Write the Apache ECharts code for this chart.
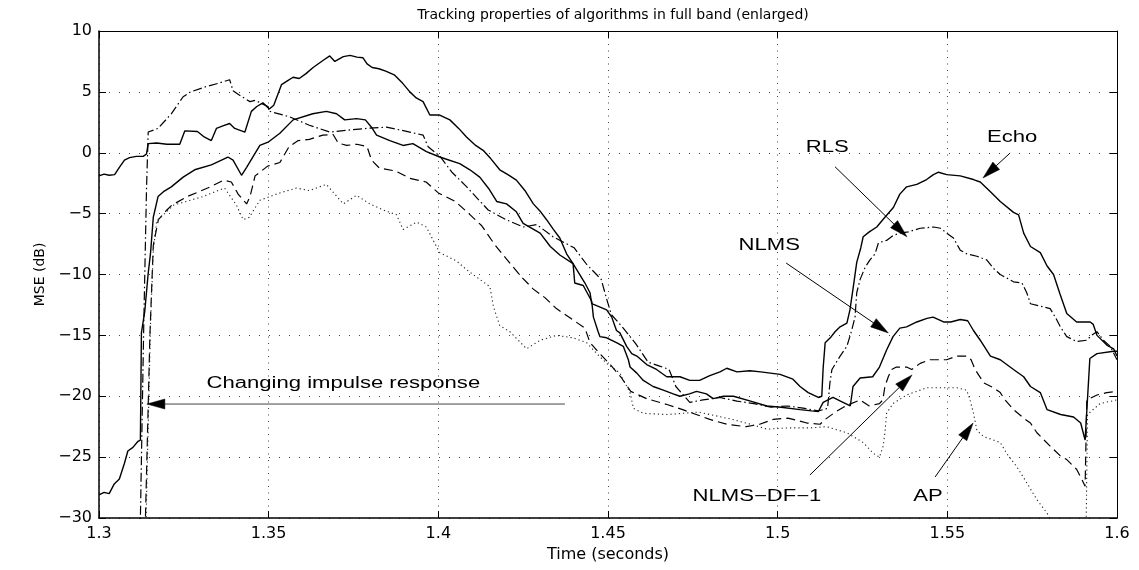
<!DOCTYPE html>
<html><head><meta charset="utf-8">
<script src="https://cdn.jsdelivr.net/npm/echarts@6/dist/echarts.min.js"></script>
<style>html,body{margin:0;padding:0;background:#fff}#c{width:1139px;height:570px}</style>
</head><body><div id="c"></div>
<script>
// ---- axis ticks ----
const xTicks = [1.3, 1.35, 1.4, 1.45, 1.5, 1.55, 1.6];
const xTickLabels = ['1.3', '1.35', '1.4', '1.45', '1.5', '1.55', '1.6'];
const yTicks = [-30, -25, -20, -15, -10, -5, 0, 5, 10];
const yTickLabels = ['\u221230', '\u221225', '\u221220', '\u221215', '\u221210', '\u22125', '0', '5', '10'];

// ---- series: [time (s), MSE (dB)] ----
const echo = [[1.3000,-1.9],[1.3015,-1.75],[1.3030,-1.85],[1.3046,-1.8],[1.3060,-1.2],[1.3075,-0.6],[1.3090,-0.4],[1.3110,-0.3],[1.3130,-0.3],[1.3140,-0.1],[1.3145,0.75],[1.3170,0.8],[1.3200,0.7],[1.3238,0.7],[1.3253,1.8],[1.3290,1.75],[1.3310,1.3],[1.3331,1.0],[1.3346,2.0],[1.3365,2.2],[1.3385,2.4],[1.3400,2.0],[1.3430,1.7],[1.3449,3.4],[1.3465,3.8],[1.3483,4.1],[1.3502,3.6],[1.3515,3.9],[1.3538,5.6],[1.3555,5.9],[1.3572,6.2],[1.3590,6.1],[1.3610,6.5],[1.3631,7.0],[1.3661,7.6],[1.3680,7.95],[1.3695,7.5],[1.3720,7.9],[1.3740,8.0],[1.3760,7.85],[1.3778,7.8],[1.3790,7.3],[1.3805,7.0],[1.3825,6.9],[1.3845,6.7],[1.3870,6.4],[1.3895,5.7],[1.3916,5.0],[1.3935,4.5],[1.3955,4.2],[1.3975,3.1],[1.4004,3.1],[1.4034,2.7],[1.4060,2.0],[1.4083,1.3],[1.4110,0.6],[1.4132,0.2],[1.4155,-0.5],[1.4181,-1.4],[1.4205,-1.8],[1.4230,-2.25],[1.4255,-3.1],[1.4280,-4.2],[1.4300,-4.8],[1.4319,-5.5],[1.4339,-6.3],[1.4358,-7.0],[1.4378,-8.3],[1.4397,-9.1],[1.4432,-10.7],[1.4447,-11.5],[1.4452,-12.4],[1.4461,-12.5],[1.4496,-12.9],[1.4511,-13.5],[1.4525,-14.6],[1.4535,-14.8],[1.4555,-15.9],[1.4570,-16.5],[1.4585,-16.7],[1.4614,-17.4],[1.4643,-17.8],[1.4673,-18.4],[1.4712,-18.4],[1.4741,-18.7],[1.4770,-18.7],[1.4800,-18.3],[1.4830,-18.0],[1.4850,-17.7],[1.4880,-18.0],[1.4918,-17.9],[1.4950,-18.0],[1.5007,-18.2],[1.5045,-18.6],[1.5066,-19.2],[1.5090,-19.7],[1.5120,-20.1],[1.5130,-20.0],[1.5134,-17.7],[1.5140,-15.6],[1.5155,-15.2],[1.5169,-14.7],[1.5184,-14.3],[1.5204,-14.0],[1.5213,-12.9],[1.5223,-11.0],[1.5233,-9.0],[1.5245,-7.8],[1.5252,-6.9],[1.5270,-6.5],[1.5292,-6.1],[1.5316,-5.3],[1.5341,-4.5],[1.5360,-3.4],[1.5380,-2.8],[1.5410,-2.6],[1.5439,-2.2],[1.5459,-1.8],[1.5474,-1.6],[1.5498,-1.8],[1.5538,-1.9],[1.5577,-2.2],[1.5597,-2.4],[1.5627,-3.2],[1.5656,-4.0],[1.5695,-4.9],[1.5710,-5.1],[1.5725,-6.6],[1.5745,-7.7],[1.5774,-8.2],[1.5794,-9.3],[1.5813,-10.0],[1.5832,-11.6],[1.5852,-13.2],[1.5881,-13.9],[1.5921,-13.9],[1.5930,-14.1],[1.5941,-15.0],[1.5970,-15.8],[1.5990,-16.1],[1.6000,-16.7]];

const rls = [[1.3000,-40],[1.3118,-40],[1.3122,-30],[1.3132,-14],[1.3140,-3],[1.3145,1.7],[1.3174,2.0],[1.3213,3.2],[1.3248,4.6],[1.3270,5.0],[1.3312,5.4],[1.3351,5.7],[1.3385,6.0],[1.3395,5.1],[1.3410,4.8],[1.3430,4.45],[1.3445,4.2],[1.3460,4.3],[1.3498,3.8],[1.3503,3.4],[1.3562,2.95],[1.3620,2.26],[1.3680,1.7],[1.3730,1.85],[1.3788,2.0],[1.3847,2.1],[1.3916,1.7],[1.3955,1.45],[1.3970,0.5],[1.4005,-0.3],[1.4040,-1.6],[1.4080,-2.7],[1.4120,-3.9],[1.4147,-4.7],[1.4200,-5.5],[1.4250,-6.1],[1.4290,-5.9],[1.4338,-6.9],[1.4400,-7.8],[1.4438,-9.2],[1.4480,-10.4],[1.4497,-12.1],[1.4510,-13.3],[1.4545,-14.4],[1.4582,-15.7],[1.4618,-17.2],[1.4650,-17.5],[1.4680,-17.8],[1.4700,-19.2],[1.4741,-20.5],[1.4780,-20.3],[1.4830,-20.1],[1.4880,-20.4],[1.4930,-20.6],[1.4980,-20.9],[1.5030,-20.8],[1.5080,-21.0],[1.5120,-21.2],[1.5147,-21.0],[1.5154,-18.9],[1.5160,-17.8],[1.5184,-16.7],[1.5204,-15.9],[1.5218,-14.6],[1.5228,-13.5],[1.5233,-11.5],[1.5243,-10.4],[1.5258,-9.4],[1.5272,-8.8],[1.5287,-8.3],[1.5297,-7.4],[1.5321,-7.2],[1.5340,-6.8],[1.5360,-6.6],[1.5385,-6.5],[1.5420,-6.2],[1.5459,-6.1],[1.5480,-6.2],[1.5498,-6.6],[1.5518,-7.0],[1.5538,-8.0],[1.5557,-8.3],[1.5587,-8.5],[1.5616,-8.8],[1.5636,-9.5],[1.5656,-10.0],[1.5695,-10.6],[1.5720,-10.7],[1.5734,-11.5],[1.5745,-12.4],[1.5774,-12.6],[1.5803,-12.8],[1.5820,-13.6],[1.5833,-14.3],[1.5852,-15.1],[1.5881,-15.5],[1.5911,-15.4],[1.5925,-15.0],[1.5941,-14.7],[1.5960,-15.4],[1.5980,-15.9],[1.6000,-17.0]];

const nlms = [[1.3000,-28.1],[1.3015,-27.9],[1.3030,-28.0],[1.3045,-27.2],[1.3060,-26.8],[1.3075,-25.5],[1.3085,-24.5],[1.3100,-24.2],[1.3115,-23.7],[1.3122,-23.6],[1.3125,-14.8],[1.3135,-13.0],[1.3145,-9.9],[1.3152,-8.2],[1.3160,-5.3],[1.3174,-3.6],[1.3190,-3.2],[1.3213,-2.8],[1.3248,-2.0],[1.3282,-1.4],[1.3331,-1.0],[1.3380,-0.35],[1.3395,-0.6],[1.3420,-1.85],[1.3435,-1.2],[1.3474,0.6],[1.3500,0.9],[1.3533,1.6],[1.3572,2.7],[1.3630,3.2],[1.3670,3.4],[1.3700,3.2],[1.3724,2.7],[1.3759,2.8],[1.3785,2.7],[1.3803,2.1],[1.3818,1.45],[1.3857,1.0],[1.3896,0.6],[1.3925,0.75],[1.3965,0.1],[1.4004,-0.35],[1.4063,-0.9],[1.4093,-1.4],[1.4122,-2.0],[1.4150,-3.0],[1.4172,-4.0],[1.4201,-4.2],[1.4230,-4.85],[1.4250,-5.8],[1.4300,-6.6],[1.4330,-7.7],[1.4358,-8.4],[1.4397,-9.1],[1.4402,-10.7],[1.4427,-10.9],[1.4452,-12.2],[1.4457,-13.5],[1.4471,-14.7],[1.4476,-15.1],[1.4496,-15.2],[1.4525,-15.6],[1.4545,-15.9],[1.4560,-17.0],[1.4565,-17.6],[1.4585,-18.1],[1.4604,-18.7],[1.4633,-19.2],[1.4663,-19.5],[1.4692,-19.8],[1.4712,-20.0],[1.4740,-19.8],[1.4761,-19.6],[1.4790,-19.8],[1.4810,-20.2],[1.4840,-20.0],[1.4870,-20.0],[1.4920,-20.4],[1.4968,-20.8],[1.5010,-20.9],[1.5066,-21.1],[1.5100,-21.2],[1.5120,-21.25],[1.5134,-20.5],[1.5163,-20.1],[1.5185,-20.4],[1.5214,-20.8],[1.5222,-19.2],[1.5243,-18.5],[1.5280,-18.4],[1.5300,-17.6],[1.5321,-16.2],[1.5340,-15.1],[1.5360,-14.4],[1.5380,-14.3],[1.5410,-13.9],[1.5440,-13.6],[1.5458,-13.5],[1.5489,-13.9],[1.5510,-13.9],[1.5538,-13.7],[1.5560,-13.8],[1.5577,-14.6],[1.5597,-15.4],[1.5627,-16.7],[1.5656,-17.0],[1.5695,-17.8],[1.5725,-18.4],[1.5745,-19.2],[1.5774,-19.7],[1.5794,-21.1],[1.5834,-21.5],[1.5872,-21.7],[1.5893,-22.2],[1.5906,-23.6],[1.5911,-23.7],[1.5920,-16.9],[1.5941,-16.5],[1.5990,-16.3],[1.6000,-16.3]];

const nlmsDf1 = [[1.3000,-40],[1.3132,-40],[1.3136,-31],[1.3150,-15],[1.3160,-7.6],[1.3175,-5.5],[1.3200,-4.7],[1.3215,-4.3],[1.3260,-3.6],[1.3320,-2.9],[1.3368,-2.25],[1.3390,-2.4],[1.3410,-3.4],[1.3435,-4.2],[1.3445,-3.6],[1.3460,-1.9],[1.3497,-1.1],[1.3533,-0.8],[1.3560,0.5],[1.3587,1.0],[1.3620,1.1],[1.3660,1.45],[1.3690,1.5],[1.3705,0.8],[1.3730,0.6],[1.3760,0.7],[1.3790,0.5],[1.3803,-0.6],[1.3826,-1.25],[1.3874,-1.5],[1.3916,-2.1],[1.3964,-2.4],[1.4000,-3.3],[1.4050,-4.0],[1.4090,-5.0],[1.4128,-6.0],[1.4165,-7.5],[1.4200,-8.7],[1.4245,-10.2],[1.4280,-11.2],[1.4314,-11.9],[1.4348,-12.8],[1.4390,-13.6],[1.4432,-14.4],[1.4447,-15.6],[1.4476,-16.5],[1.4510,-17.5],[1.4540,-18.5],[1.4567,-19.6],[1.4614,-20.2],[1.4676,-20.7],[1.4720,-21.1],[1.4760,-21.5],[1.4800,-21.9],[1.4850,-22.3],[1.4907,-22.5],[1.4947,-22.3],[1.4987,-21.9],[1.5030,-21.8],[1.5060,-22.0],[1.5086,-22.2],[1.5125,-22.3],[1.5140,-21.9],[1.5170,-21.3],[1.5200,-20.8],[1.5243,-20.3],[1.5270,-20.8],[1.5300,-20.6],[1.5310,-20.3],[1.5316,-19.2],[1.5326,-18.4],[1.5336,-17.8],[1.5350,-17.6],[1.5380,-17.6],[1.5395,-17.8],[1.5420,-17.3],[1.5449,-17.0],[1.5498,-17.0],[1.5528,-16.7],[1.5557,-16.7],[1.5570,-17.0],[1.5582,-17.8],[1.5607,-18.9],[1.5636,-19.3],[1.5656,-19.7],[1.5670,-20.3],[1.5695,-21.1],[1.5725,-21.8],[1.5745,-22.2],[1.5764,-23.0],[1.5803,-24.1],[1.5833,-24.9],[1.5852,-25.2],[1.5881,-26.0],[1.5896,-26.8],[1.5906,-27.4],[1.5911,-20.3],[1.5941,-19.9],[1.5970,-19.7],[1.6000,-19.6]];

const ap = [[1.3000,-40],[1.3134,-40],[1.3138,-31],[1.3152,-14],[1.3160,-8],[1.3170,-5.6],[1.3220,-4.3],[1.3306,-3.6],[1.3370,-2.9],[1.3405,-4.3],[1.3425,-5.5],[1.3443,-5.3],[1.3474,-3.9],[1.3533,-3.3],[1.3582,-2.9],[1.3620,-3.1],[1.3670,-2.6],[1.3720,-4.2],[1.3759,-3.5],[1.3798,-4.2],[1.3837,-4.7],[1.3877,-5.1],[1.3896,-6.3],[1.3936,-5.7],[1.3965,-6.1],[1.3985,-7.2],[1.4004,-8.2],[1.4054,-8.9],[1.4083,-9.6],[1.4112,-10.2],[1.4152,-11.0],[1.4162,-12.6],[1.4181,-14.2],[1.4211,-14.7],[1.4260,-16.1],[1.4300,-15.4],[1.4348,-15.0],[1.4397,-15.2],[1.4437,-15.6],[1.4467,-16.5],[1.4496,-17.3],[1.4535,-18.1],[1.4565,-19.7],[1.4575,-21.0],[1.4604,-21.4],[1.4673,-21.5],[1.4722,-21.4],[1.4767,-21.3],[1.4866,-21.9],[1.4920,-22.3],[1.4968,-22.7],[1.5030,-22.6],[1.5095,-22.6],[1.5144,-22.5],[1.5204,-23.0],[1.5252,-23.8],[1.5282,-24.7],[1.5300,-25.0],[1.5311,-24.1],[1.5316,-23.0],[1.5321,-21.4],[1.5340,-20.6],[1.5380,-19.9],[1.5439,-19.3],[1.5478,-19.3],[1.5528,-19.3],[1.5557,-19.5],[1.5567,-20.3],[1.5577,-21.4],[1.5587,-22.8],[1.5606,-23.3],[1.5656,-23.8],[1.5675,-24.7],[1.5705,-25.8],[1.5734,-27.1],[1.5764,-28.5],[1.5794,-29.6],[1.5820,-31],[1.5860,-33],[1.5908,-33],[1.5913,-21.5],[1.5950,-20.6],[1.6000,-20.3]];

// ---- annotations (data coordinates) ----
const annotations = [
  { text: 'Changing impulse response', label: [1.3720, -18.95], from: [1.4373, -20.64], to: [1.3141, -20.64] },
  { text: 'Echo',      label: [1.5691, 1.22],   from: [1.5685, -0.02],  to: [1.5605, -2.07] },
  { text: 'RLS',       label: [1.5146, 0.39],   from: [1.5169, -1.15],  to: [1.5381, -6.90] },
  { text: 'NLMS',      label: [1.4975, -7.66],  from: [1.5025, -9.06],  to: [1.5326, -14.8] },
  { text: 'NLMS\u2212DF\u22121', label: [1.4939, -28.28], from: [1.5095, -26.47], to: [1.5396, -18.25] },
  { text: 'AP',        label: [1.5443, -28.28], from: [1.5464, -26.63], to: [1.5576, -22.2] }
];

function tickLabel(ticks, labels, v) {
  for (let i = 0; i < ticks.length; i++) if (Math.abs(ticks[i] - v) < 1e-6) return labels[i];
  return '';
}

const chart = echarts.init(document.getElementById('c'), null, { renderer: 'canvas' });
const FONT = 'DejaVu Sans';
const axisCommon = {
  type: 'value',
  axisLine: { show: true, onZero: false, lineStyle: { color: '#000', width: 1.5 } },
  axisTick: { show: true, inside: true, length: 7, lineStyle: { color: '#000', width: 1 } },
  minorTick: { show: false }
};
const lineBase = { type: 'line', showSymbol: false, symbol: 'none', silent: true, clip: true, animation: false, z: 3 };

chart.setOption({
  animation: false,
  backgroundColor: '#fff',
  title: {
    text: 'Tracking properties of algorithms in full band (enlarged)',
    left: 608, top: 3, textAlign: 'center',
    textStyle: { fontFamily: FONT, fontSize: 14, fontWeight: 'normal', color: '#000' }
  },
  grid: { left: 99, right: 22, top: 31, bottom: 52, containLabel: false },
  xAxis: [
    Object.assign({}, axisCommon, {
      position: 'bottom', min: 1.3, max: 1.6, interval: 0.05,
      name: 'Time (seconds)', nameLocation: 'middle', nameGap: 29,
      nameTextStyle: { fontFamily: FONT, fontSize: 16, color: '#000' },
      axisLabel: { margin: 8, fontFamily: FONT, fontSize: 16, color: '#000',
        formatter: v => tickLabel(xTicks, xTickLabels, v) },
      splitLine: { show: true, lineStyle: { color: '#444', width: 1, type: [1, 5.5] } }
    }),
    Object.assign({}, axisCommon, {
      position: 'top', min: 1.3, max: 1.6, interval: 0.05,
      axisLine: { show: true, onZero: false, lineStyle: { color: '#000', width: 1 } },
      axisLabel: { show: false }, splitLine: { show: false }
    })
  ],
  yAxis: [
    Object.assign({}, axisCommon, {
      position: 'left', min: -30, max: 10, interval: 5,
      name: 'MSE (dB)', nameLocation: 'middle', nameGap: 50,
      nameTextStyle: { fontFamily: FONT, fontSize: 14, color: '#000' },
      axisLabel: { margin: 7, fontFamily: FONT, fontSize: 16, color: '#000',
        formatter: v => tickLabel(yTicks, yTickLabels, v) },
      splitLine: { show: true, lineStyle: { color: '#444', width: 1, type: [1, 9] } }
    }),
    Object.assign({}, axisCommon, {
      position: 'right', min: -30, max: 10, interval: 5,
      axisLine: { show: true, onZero: false, lineStyle: { color: '#000', width: 1 } },
      axisLabel: { show: false }, splitLine: { show: false }
    })
  ],
  series: [
    Object.assign({}, lineBase, { name: 'Echo', data: echo, lineStyle: { color: '#000', width: 1.4, type: 'solid' } }),
    Object.assign({}, lineBase, { name: 'RLS', data: rls, lineStyle: { color: '#000', width: 1.2, type: [9, 3, 1.5, 3] } }),
    Object.assign({}, lineBase, { name: 'NLMS', data: nlms, lineStyle: { color: '#000', width: 1.4, type: 'solid' } }),
    Object.assign({}, lineBase, { name: 'NLMS\u2212DF\u22121', data: nlmsDf1, lineStyle: { color: '#000', width: 1.2, type: [9, 5] } }),
    Object.assign({}, lineBase, { name: 'AP', data: ap, lineStyle: { color: '#222', width: 1.1, type: [1.2, 3] } })
  ]
});

function buildAnnotations() {
  const g = [];
  const L = 18, W = 5;
  annotations.forEach((a, i) => {
    const t = chart.convertToPixel({ gridIndex: 0 }, a.label);
    g.push({
      type: 'text', x: t[0], y: t[1], scaleX: 1.38, silent: true, z: 10,
      style: { text: a.text, fontFamily: 'Liberation Sans', fontSize: 16, fill: '#000',
        textAlign: 'center', textVerticalAlign: 'middle', align: 'center', verticalAlign: 'middle' }
    });
    const p0 = chart.convertToPixel({ gridIndex: 0 }, a.from);
    const p1 = chart.convertToPixel({ gridIndex: 0 }, a.to);
    const dx = p1[0] - p0[0], dy = p1[1] - p0[1];
    const len = Math.sqrt(dx * dx + dy * dy);
    const ux = dx / len, uy = dy / len;
    const bx = p1[0] - ux * L, by = p1[1] - uy * L;
    const px = -uy, py = ux;
    g.push({
      type: 'line', silent: true, z: 10,
      shape: { x1: p0[0], y1: p0[1], x2: bx, y2: by },
      style: { stroke: i === 0 ? '#444' : '#000', lineWidth: 1 }
    });
    g.push({
      type: 'polygon', silent: true, z: 10,
      shape: { points: [[p1[0], p1[1]], [bx + px * W, by + py * W], [bx - px * W, by - py * W]] },
      style: { fill: '#000', stroke: '#000', lineWidth: 0.5 }
    });
  });
  chart.setOption({ graphic: g });
}
buildAnnotations();
</script>
</body></html>
